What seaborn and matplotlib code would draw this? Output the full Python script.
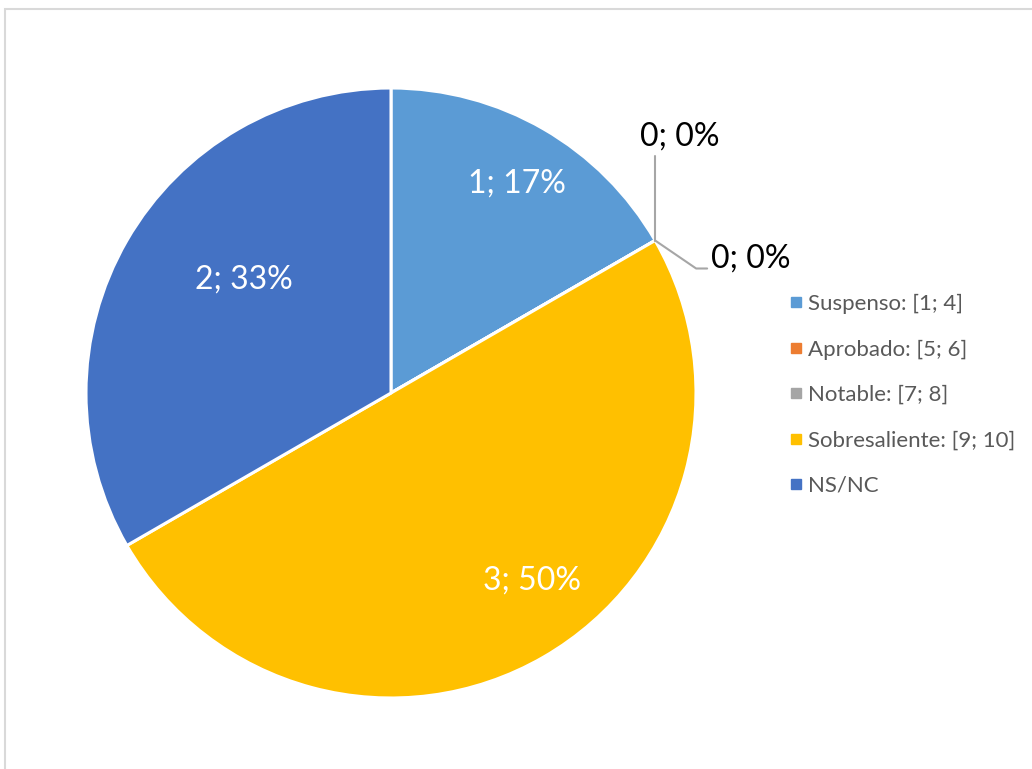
import matplotlib
matplotlib.use("Agg")
import matplotlib.pyplot as plt
import seaborn as sns
import numpy as np
from matplotlib.lines import Line2D
from matplotlib.patches import Rectangle

sns.set_theme(style="white")
plt.rcParams['font.family'] = ['Lato', 'DejaVu Sans']

categories = ["Suspenso: [1; 4]", "Aprobado: [5; 6]", "Notable: [7; 8]",
              "Sobresaliente: [9; 10]", "NS/NC"]
values = [1, 0, 0, 3, 2]
colors = ["#5B9BD5", "#ED7D31", "#A5A5A5", "#FFC000", "#4472C4"]

W, H = 1032, 769
fig = plt.figure(figsize=(W / 100, H / 100), dpi=100)
ax = fig.add_axes([0, 0, 1, 1])

# chart border (extends past right and bottom edges)
fig.patches.append(Rectangle((4.5 / W, -0.2), 1.2, 1.2 - 8.5 / H, transform=fig.transFigure,
                             fill=False, edgecolor="#D9D9D9", linewidth=1.5))

cx, cy, R = 391, H - 393, 305
wedges, _ = ax.pie(values, colors=colors, startangle=90, counterclock=False,
                   radius=R, center=(cx, cy), frame=True,
                   wedgeprops=dict(edgecolor="white", linewidth=2.2))
ax.set_xlim(0, W)
ax.set_ylim(0, H)
ax.set_aspect('equal')
ax.axis('off')

total = sum(values)
lab_fs = 23
# label placement (fraction of radius, angle offset) for nonzero slices
place = {0: (0.80, -1.0), 3: (0.77, 7.0), 4: (0.61, -7.5)}
for i, (w, v) in enumerate(zip(wedges, values)):
    pct = round(100 * v / total)
    txt = f"{v}; {pct}%"
    if v > 0:
        f, off = place[i]
        ang = np.deg2rad((w.theta1 + w.theta2) / 2 + off)
        ax.text(cx + f * R * np.cos(ang), cy + f * R * np.sin(ang), txt,
                ha="center", va="center", color="white", fontsize=lab_fs)

# zero slices: leader lines from wedge edge
ang0 = np.deg2rad(wedges[1].theta1)
ex, ey = cx + R * np.cos(ang0), cy + R * np.sin(ang0)
ax.plot([ex, ex], [ey, ey + 85], color="#A6A6A6", lw=1.5)
ax.text(ex + 25, ey + 89, f"{values[1]}; 0%", ha="center", va="bottom",
        fontsize=lab_fs, color="black")
ax.plot([ex, ex + 41, ex + 52], [ey, ey - 28, ey - 28], color="#A6A6A6", lw=1.5)
ax.text(ex + 56, ey - 18, f"{values[2]}; 0%", ha="left", va="center",
        fontsize=lab_fs, color="black")

handles = [Line2D([0], [0], marker='s', linestyle='none', markersize=6.5,
                  markerfacecolor=c, markeredgecolor=c) for c in colors]
leg = ax.legend(handles, categories, loc="upper left",
                bbox_to_anchor=(785 / W, 1 - 294 / H), frameon=False,
                fontsize=16, labelspacing=1.14, handletextpad=0.05,
                handlelength=1.0, labelcolor="#595959", borderaxespad=0,
                borderpad=0)

fig.savefig("out.png", dpi=100)
